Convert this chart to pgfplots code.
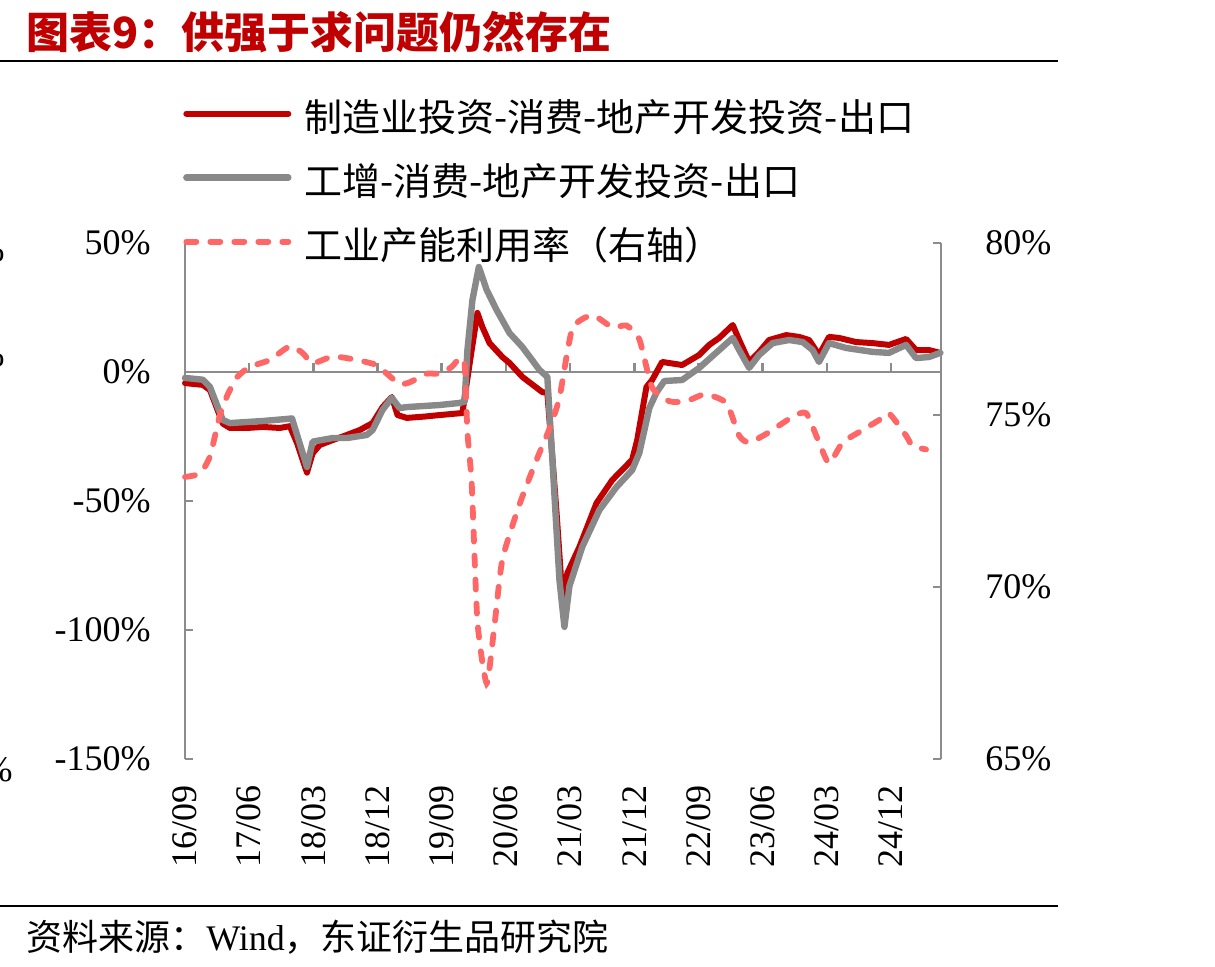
\documentclass[border=0pt]{standalone}
\usepackage{pgfplots}
\pgfplotsset{compat=1.18}
\usepackage{fontspec}
\setmainfont{Liberation Serif}
\newfontfamily\cjk{Noto Sans CJK SC}

\definecolor{cred}{RGB}{192,0,0}
\definecolor{cgray}{RGB}{137,137,137}
\definecolor{cpink}{RGB}{255,102,102}
\definecolor{caxis}{RGB}{140,140,140}

\tikzset{
  redline/.style={cred, line width=3pt, line join=round, line cap=round},
  grayline/.style={cgray, line width=3.2pt, line join=round, line cap=round},
  pinkline/.style={cpink, line width=2.9pt, line cap=round, dash pattern=on 5pt off 7pt},
}

\begin{document}
\begin{tikzpicture}[x=1pt,y=1pt]
\path[use as bounding box] (0,0) rectangle (607.5,483.5);

% title and rules
\node[anchor=west, inner sep=0pt, text=cred, font=\cjk\bfseries\fontsize{21.5}{23}\selectfont] at (13,467.5) {图表9：供强于求问题仍然存在};
\draw[line width=1pt] (0,453) -- (529,453);
\draw[line width=1pt] (0,30.5) -- (529,30.5);
\node[anchor=west, inner sep=0pt, font=\fontsize{18}{20}\selectfont] at (13,15) {{\cjk 资料来源：}Wind{\cjk ，东证衍生品研究院}};

% cut-off labels of the neighbouring panel
\node[anchor=east, inner sep=0pt, font=\fontsize{18}{20}\selectfont] at (2.5,358.5) {\%};
\node[anchor=east, inner sep=0pt, font=\fontsize{18}{20}\selectfont] at (2.5,306) {\%};
\node[anchor=east, inner sep=0pt, font=\fontsize{18}{20}\selectfont] at (6.5,98.5) {\%};

% left axis: spreads
\begin{axis}[
  at={(92.5pt,104pt)}, anchor=south west, scale only axis,
  width=378pt, height=258pt,
  xmin=0, xmax=106, ymin=-150, ymax=50,
  axis y line*=left, axis x line*=bottom,
  x axis line style={draw=none},
  y axis line style={caxis, line width=1.3pt},
  xtick={0,9,18,27,36,45,54,63,72,81,90,99},
  xticklabels={16/09,17/06,18/03,18/12,19/09,20/06,21/03,21/12,22/09,23/06,24/03,24/12},
  xtick style={draw=none},
  xticklabel style={rotate=90, anchor=east, inner sep=0pt, font=\fontsize{18}{20}\selectfont},
  xticklabel shift=13pt,
  ytick={-150,-100,-50,0,50},
  yticklabels={-150\%,-100\%,-50\%,0\%,50\%},
  ytick style={caxis, line width=1.3pt},
  yticklabel style={inner sep=0pt, font=\fontsize{18}{20}\selectfont},
  yticklabel shift=17pt,
  tick align=inside, major tick length=4pt,
  clip=false,
  legend style={at={(axis description cs:-0.003,1.267)}, anchor=north west,
    draw=none, fill=none, inner sep=0pt, row sep=16pt, column sep=6.5pt,
    nodes={inner sep=0pt, text height=13pt, text depth=3pt},
    font=\cjk\fontsize{19}{21}\selectfont},
  legend cell align=left,
  legend image code/.code={\draw[#1] (0pt,4pt) -- (51pt,4pt);},
]
\draw[caxis, line width=1.3pt] (axis cs:0,0) -- (axis cs:106,0);
\pgfplotsinvokeforeach{9,18,27,36,45,54,63,72,81,90,99}{
  \draw[caxis, line width=1.3pt] (axis cs:#1,0) -- ++(0pt,4.5pt);
}

\addplot[redline] coordinates {
(0.0,-4.3) (2.5,-5) (3.5,-7) (5.3,-20) (6.3,-21.7) (8.7,-21.7) (10.9,-21.3)
(13.3,-21.7) (14.7,-21) (15.7,-27.5) (17.1,-39) (17.9,-31.5) (18.9,-28.3)
(20.7,-26.4) (22.7,-24.4) (24.5,-22.5) (26.3,-19.8) (27.7,-13.6) (29.0,-9.7)
(29.8,-16.7) (31.1,-17.8) (33.5,-17.3) (35.7,-16.7) (38.9,-15.9) (39.5,-4.3)
(40.2,8.5) (41.0,22.9) (41.7,17.4) (42.7,11.2) (44.5,5.8) (45.5,3.5)
(47.3,-1.9) (50.1,-7.8) (50.8,-8.1) (51.4,-29) (52.1,-54.6) (52.9,-87)
(53.2,-92) (53.6,-78) (55.3,-67.8) (57.7,-50.8) (59.9,-41.9) (62.7,-34)
(63.4,-26.4) (64.7,-5.8) (65.5,-3.1) (66.9,3.9) (69.7,2.7) (72.1,6.6)
(73.5,10.5) (74.9,13.2) (76.8,18.2) (77.7,12.4) (79.1,3.9) (80.5,7.8)
(81.9,12.4) (84.3,14.3) (86.1,13.6) (87.5,12.4) (88.9,6.6) (90.3,13.6)
(91.7,13.2) (94.1,11.6) (96.4,11.2) (98.7,10.5) (101.1,12.8) (102.5,8.5)
(104.3,8.5) (105.9,7.4)
};
\addlegendentry{制造业投资-消费-地产开发投资-出口}

\addplot[grayline] coordinates {
(0.0,-2.3) (2.5,-3) (3.5,-5.8) (5.3,-18.6) (6.3,-19.8) (10.9,-19) (14.3,-18.2)
(15.0,-18) (17.1,-36.8) (17.9,-27) (20.7,-25.6) (22.7,-25.6) (25.5,-24.4)
(26.3,-22.5) (27.7,-14.7) (29.0,-10) (30.1,-14) (31.1,-13.6) (35.7,-12.8)
(38.5,-12) (39.2,-11.5) (39.6,8.5) (40.3,27.9) (41.2,40.7) (42.3,31.8)
(43.7,24) (45.5,15.1) (47.3,9.7) (49.7,0.8) (50.8,-1.9) (51.4,-29)
(52.5,-80.6) (53.2,-98.8) (53.9,-83) (55.7,-67.8) (58.1,-53.5) (60.5,-44.6)
(62.7,-38) (63.7,-31.4) (65.1,-14) (66.1,-8) (67.2,-3.5) (69.7,-3.1)
(72.1,1.6) (74.9,8.5) (76.8,13.2) (77.7,8.5) (79.1,1.6) (80.5,6.6)
(82.4,11.2) (84.7,12.4) (86.6,11.6) (88.0,8.5) (88.9,3.9) (90.3,11.2)
(92.7,9.3) (96.4,7.8) (98.7,7.4) (101.1,10.5) (102.5,5.4) (104.3,5.8)
(105.9,7.4)
};
\addlegendentry{工增-消费-地产开发投资-出口}

\addlegendimage{pinkline}
\addlegendentry{工业产能利用率（右轴）}
\end{axis}

% right axis: capacity utilisation
\begin{axis}[
  at={(92.5pt,104pt)}, anchor=south west, scale only axis,
  width=378pt, height=258pt,
  xmin=0, xmax=106, ymin=65, ymax=80,
  axis y line*=right, axis x line=none,
  y axis line style={caxis, line width=1.3pt},
  ytick={65,70,75,80},
  yticklabels={65\%,70\%,75\%,80\%},
  ytick style={caxis, line width=1.3pt},
  yticklabel style={inner sep=0pt, font=\fontsize{18}{20}\selectfont},
  yticklabel shift=22pt,
  tick align=inside, major tick length=4pt,
  clip=false,
]
\addplot[pinkline, smooth, tension=0.35] coordinates {
(0,73.2) (2.1,73.3) (3.5,73.8) (4.9,75.0) (6.0,75.6) (7.3,76.1) (9.1,76.4)
(11.9,76.6) (14.7,77.0) (16.5,76.8) (17.9,76.5) (20.7,76.7) (24.1,76.6)
(26.9,76.45) (28.3,76.2) (30.1,75.9) (31.5,75.95) (33.9,76.2) (35.7,76.2)
(37.4,76.4) (38.5,76.65) (39.2,76.5) (39.6,74.5) (40.2,73.0) (41.0,69.0)
(42.3,67.2) (43.4,68.9) (44.5,70.8) (46.9,72.4) (49.3,73.7) (51.1,74.6)
(52.5,75.5) (54.3,77.5) (57.1,77.9) (59.9,77.55) (61.9,77.6) (63.7,77.2)
(65.5,75.8) (67.9,75.4) (70.3,75.4) (72.9,75.6) (75.9,75.35) (77.7,74.4)
(79.1,74.2) (81.9,74.5) (85.2,74.95) (87.1,75.05) (88.9,74.2) (90.3,73.6)
(92.2,74.2) (94.5,74.5) (97.3,74.85) (98.7,75.05) (101.1,74.4) (102.0,74.1)
(103.9,74.0)
};
\end{axis}
\end{tikzpicture}
\end{document}
